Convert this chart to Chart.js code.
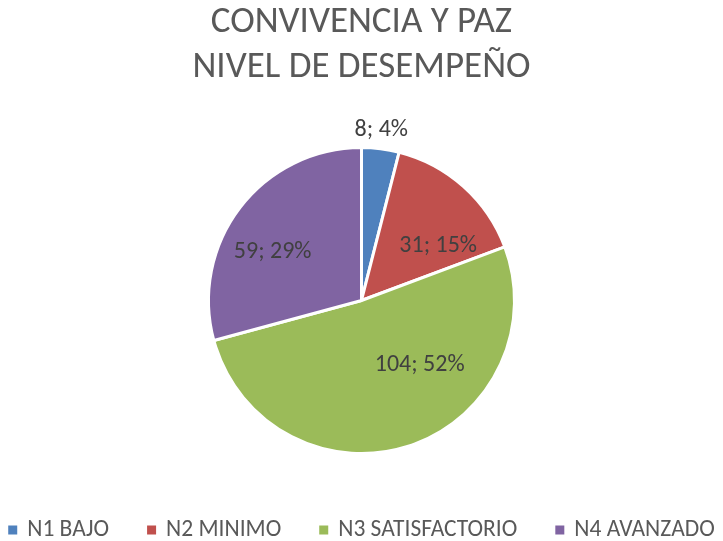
<!DOCTYPE html>
<html>
<head>
<meta charset="utf-8">
<script src="https://cdn.jsdelivr.net/npm/chart.js@4"></script>
<style>
  html, body { margin: 0; padding: 0; background: #fff; }
</style>
</head>
<body>
<canvas id="grafica" width="723" height="541"></canvas>
<script>
// datos
const niveles = ['N1 BAJO', 'N2 MINIMO', 'N3 SATISFACTORIO', 'N4 AVANZADO'];
const estudiantes = [8, 31, 104, 59];
const porcentajes = ['4%', '15%', '52%', '29%'];
const titulo = ['CONVIVENCIA Y PAZ', 'NIVEL DE DESEMPEÑO'];

const colores = ['#4F81BD', '#C0504D', '#9BBB59', '#8064A2'];
const fuente = 'Carlito, Calibri, "Open Sans", sans-serif';

// posicion de las etiquetas (factor de radio y giro en grados)
const etiquetaRadio = [1.12, 0.615, 0.566, 0.66];
const etiquetaGiro = [-0.5, 12.7, -24.4, -9];

const etiquetas = {
  id: 'etiquetas',
  afterDatasetsDraw(chart) {
    const ctx = chart.ctx;
    const arcs = chart.getDatasetMeta(0).data;
    ctx.save();
    ctx.font = '24px ' + fuente;
    ctx.fillStyle = '#404040';
    ctx.textAlign = 'center';
    ctx.textBaseline = 'middle';
    arcs.forEach((arc, i) => {
      const p = arc.getProps(['x', 'y', 'startAngle', 'endAngle', 'outerRadius'], true);
      const a = (p.startAngle + p.endAngle) / 2 + etiquetaGiro[i] * Math.PI / 180;
      const r = p.outerRadius * etiquetaRadio[i];
      ctx.fillText(estudiantes[i] + '; ' + porcentajes[i], p.x + Math.cos(a) * r, p.y + Math.sin(a) * r);
    });
    ctx.restore();
  }
};

// leyenda en una sola fila, como en Excel
const leyenda = {
  id: 'leyenda',
  afterDraw(chart) {
    const ctx = chart.ctx;
    const caja = 9, hueco = 10, separacion = 38, y = 530;
    ctx.save();
    ctx.font = '23.5px ' + fuente;
    ctx.textBaseline = 'middle';
    const anchos = niveles.map(t => ctx.measureText(t).width);
    const total = anchos.reduce((s, w) => s + caja + hueco + w, 0) + separacion * (niveles.length - 1);
    let x = (chart.width - total) / 2;
    niveles.forEach((t, i) => {
      ctx.fillStyle = colores[i];
      ctx.fillRect(x, y - caja / 2, caja, caja);
      ctx.fillStyle = '#595959';
      ctx.fillText(t, x + caja + hueco, y);
      x += caja + hueco + anchos[i] + separacion;
    });
    ctx.restore();
  }
};

new Chart(document.getElementById('grafica').getContext('2d'), {
  type: 'pie',
  data: {
    labels: niveles,
    datasets: [{
      data: estudiantes,
      backgroundColor: colores,
      borderColor: '#ffffff',
      borderWidth: 3,
      radius: 153
    }]
  },
  options: {
    responsive: false,
    animation: false,
    layout: { padding: { bottom: 59 } },
    plugins: {
      title: {
        display: true,
        text: titulo,
        color: '#595959',
        font: { family: fuente, size: 37, weight: 'normal', lineHeight: 1.216 },
        padding: { top: 0, bottom: 29 }
      },
      legend: { display: false },
      tooltip: { enabled: false }
    }
  },
  plugins: [etiquetas, leyenda]
});
</script>
</body>
</html>
